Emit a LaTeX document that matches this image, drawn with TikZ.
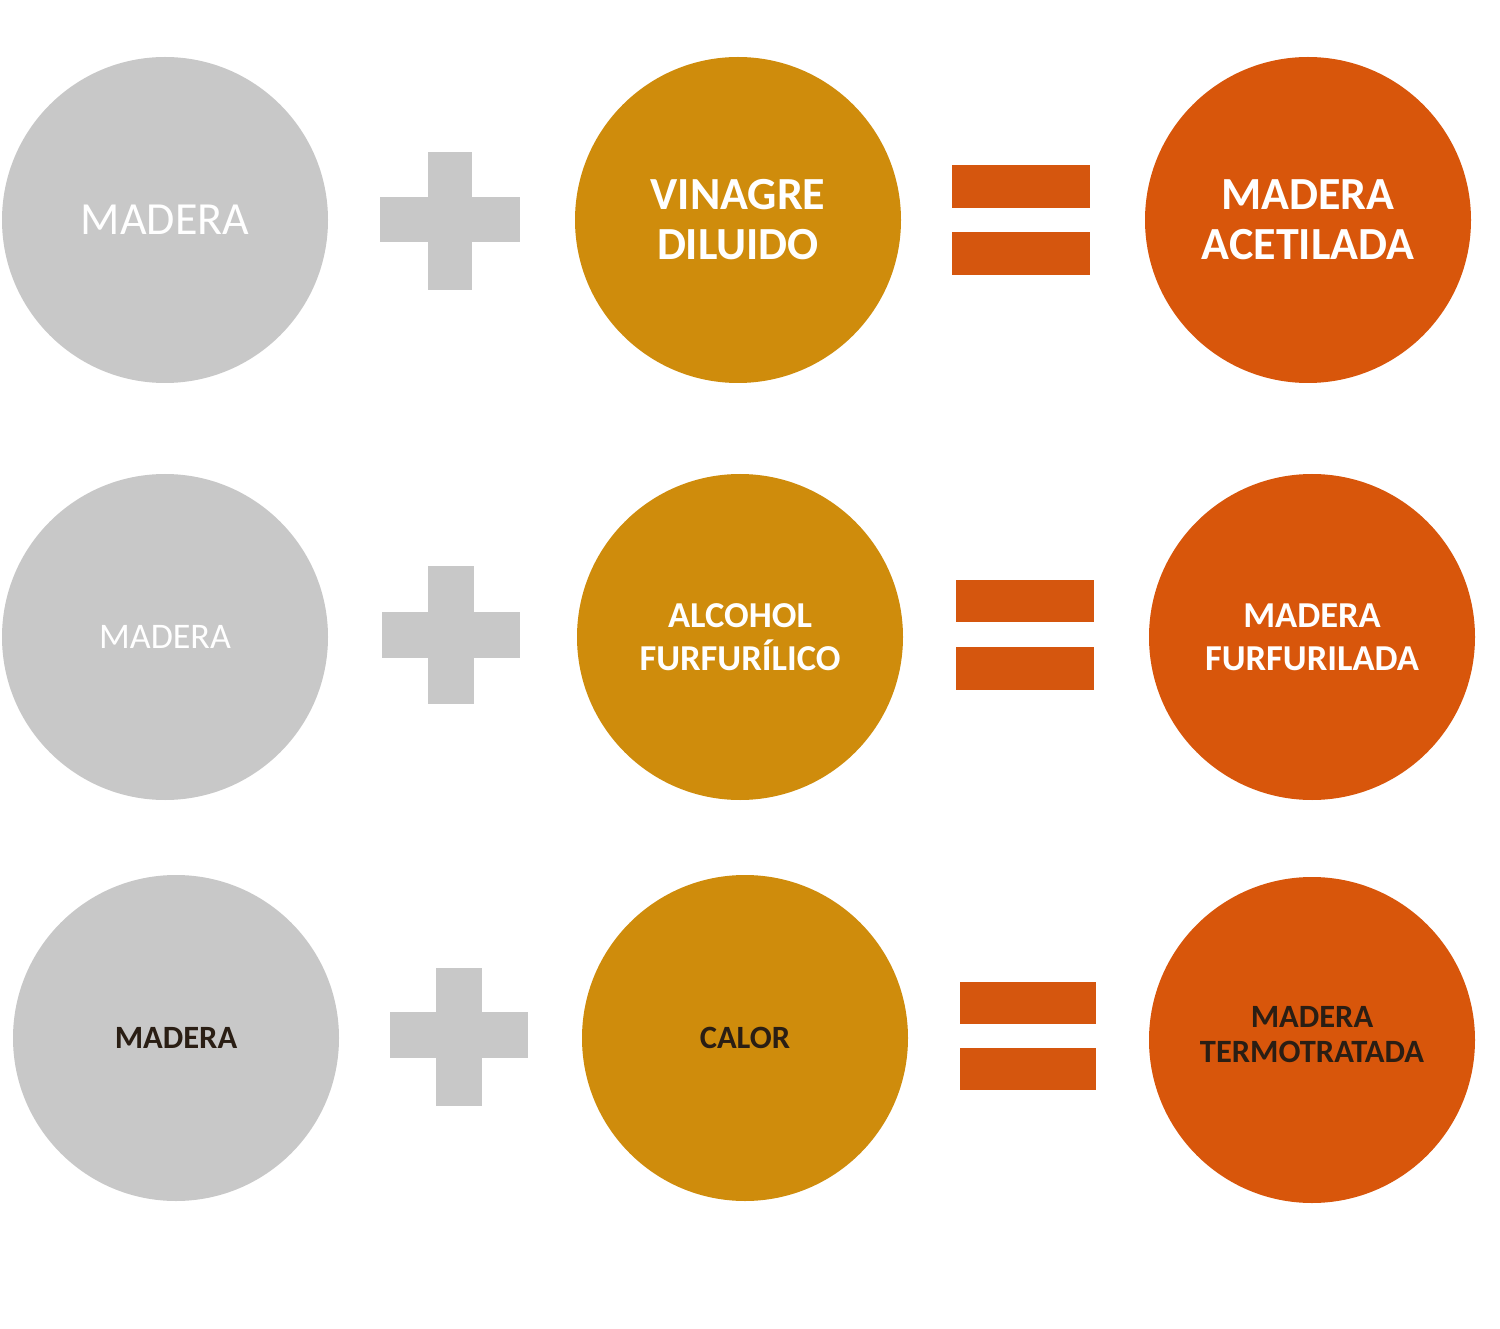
\documentclass[tikz,border=0pt]{standalone}
\usepackage{fontspec}
\setmainfont{Carlito}
\definecolor{cgray}{HTML}{C8C8C8}
\definecolor{cgold}{HTML}{CF8C0C}
\definecolor{corange}{HTML}{D8560B}
\definecolor{ceq}{HTML}{D5560E}
\definecolor{cdark}{HTML}{2A1E14}
\begin{document}
\begin{tikzpicture}[x=1pt,y=-1pt,
  disc/.style={circle,inner sep=0pt,minimum size=326pt,align=center,text=white},
  gdisc/.style={disc,fill=cgray},
  ydisc/.style={disc,fill=cgold},
  odisc/.style={disc,fill=corange},
  pl/.style={fill=cgray},
  eq/.style={fill=ceq},
  fa/.style={font=\fontsize{46}{50}\selectfont},
  fb/.style={font=\fontsize{46}{50}\selectfont\bfseries},
  fc/.style={font=\fontsize{36.5}{43}\selectfont\bfseries},
  fd/.style={font=\fontsize{36}{43}\selectfont},
  fe/.style={font=\fontsize{32.5}{35}\selectfont\bfseries,text=cdark}]
\useasboundingbox[fill=white] (0,0) rectangle (1500,1329);
% Row 1
\node[gdisc,fa] (m1) at (165,220) {MADERA};
\fill[pl] (380,197) rectangle (520,242);
\fill[pl] (428,152) rectangle (472,290);
\node[ydisc,fb] (v1) at (738,220) {VINAGRE\\DILUIDO};
\fill[eq] (952,165) rectangle (1090,208);
\fill[eq] (952,232) rectangle (1090,275);
\node[odisc,fb] (r1) at (1308,220) {MADERA\\ACETILADA};
% Row 2
\node[gdisc,fd] (m2) at (165,637) {MADERA};
\fill[pl] (382,612) rectangle (520,658);
\fill[pl] (428,566) rectangle (474,704);
\node[ydisc,fc] (v2) at (740,637) {ALCOHOL\\FURFURÍLICO};
\fill[eq] (956,580) rectangle (1094,622);
\fill[eq] (956,647) rectangle (1094,690);
\node[odisc,fc] (r2) at (1312,637) {MADERA\\FURFURILADA};
% Row 3
\node[gdisc,fe] (m3) at (176,1038) {MADERA};
\fill[pl] (390,1012) rectangle (528,1058);
\fill[pl] (436,968) rectangle (482,1106);
\node[ydisc,fe] (v3) at (745,1038) {CALOR};
\fill[eq] (960,982) rectangle (1096,1024);
\fill[eq] (960,1048) rectangle (1096,1090);
\node[odisc,minimum size=326pt] (r3) at (1312,1040) {};
\node[fe,align=center,inner sep=0pt] (r3t) at (1312,1035) {MADERA\\TERMOTRATADA};
\end{tikzpicture}
\end{document}
